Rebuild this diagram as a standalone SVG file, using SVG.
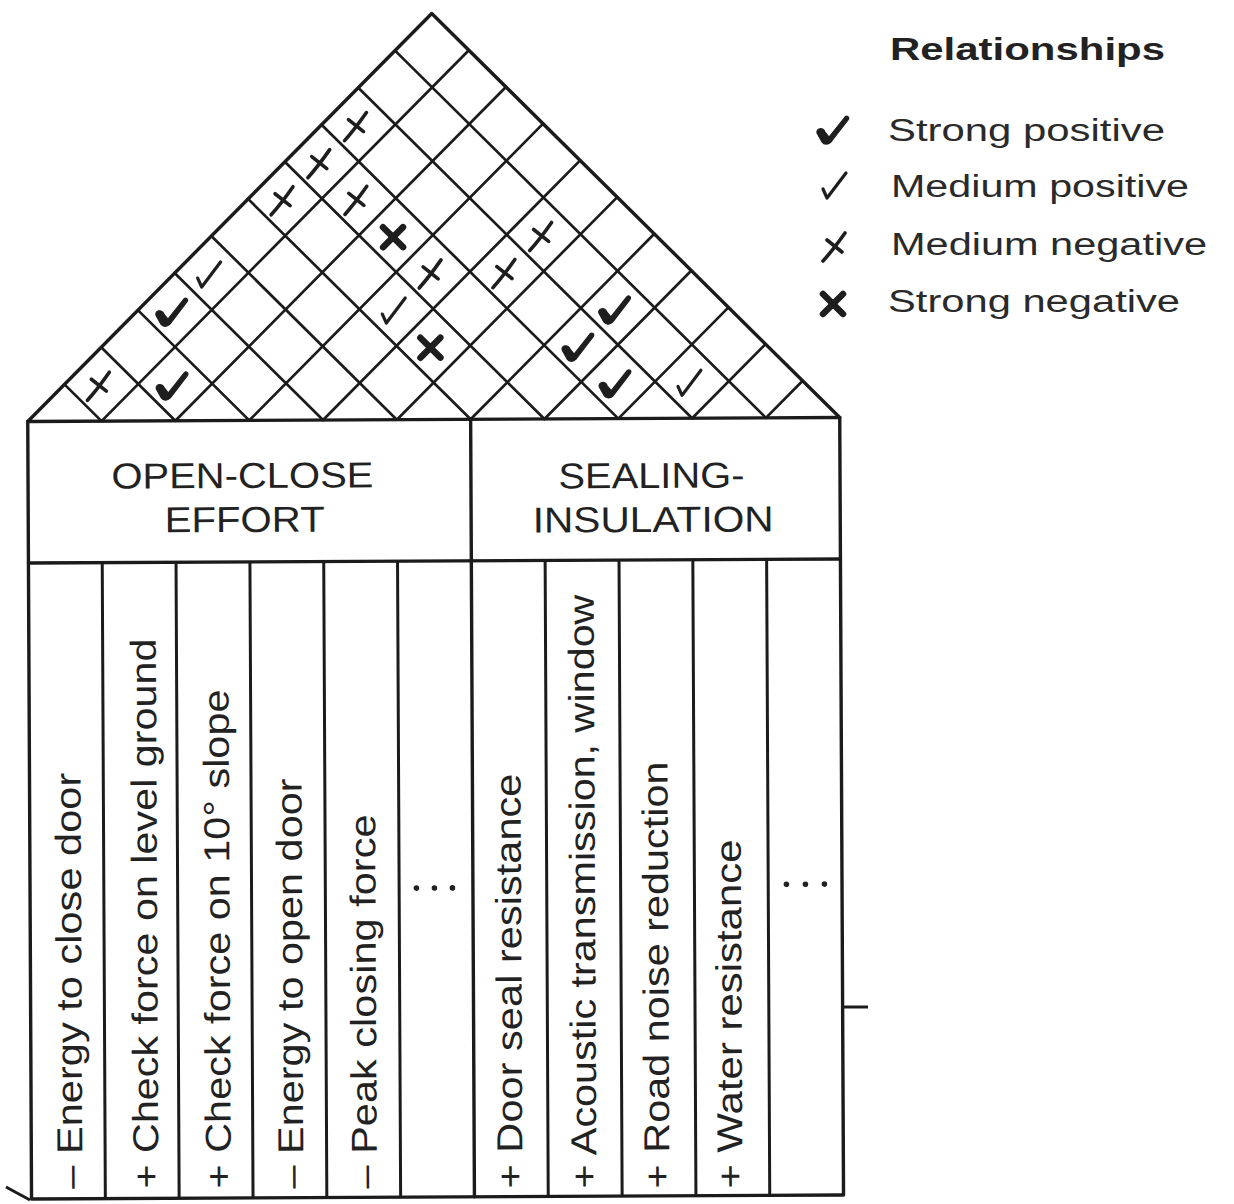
<svg xmlns="http://www.w3.org/2000/svg" xmlns:xlink="http://www.w3.org/1999/xlink" width="1234" height="1204" viewBox="0 0 1234 1204">
  <style>
    .edge { fill: none; stroke: #1b1b1b; stroke-width: 3.4; stroke-linejoin: round; stroke-linecap: round; }
    .grid { fill: none; stroke: #1b1b1b; stroke-width: 2.7; stroke-linecap: round; }
    .col { fill: none; stroke: #1b1b1b; stroke-width: 3; }
    .mark { fill: none; stroke: #1e1e1e; stroke-linecap: round; stroke-linejoin: round; }
    .solid { fill: #1e1e1e; stroke: #1e1e1e; stroke-width: 1.2; stroke-linejoin: round; }
    .lbl { font-family: "Liberation Sans", Arial, Helvetica, sans-serif; font-size: 36px; fill: #222; }
    .leg { font-family: "Liberation Sans", Arial, Helvetica, sans-serif; font-size: 31px; fill: #2a2a2a; }
    .legh { font-weight: bold; fill: #222; }
    .dot { fill: #222; }
  </style>
  <defs>
    <!-- relationship symbols, centred on 0,0 -->
    <g id="sp">
      <!-- heavy tick with a rounded left lobe -->
      <path class="solid" d="M-16,3 C-17,-2 -10,-3 -8,2 L-4,7 L12,-13 C14,-15 17,-13 15,-10 L-2,12 C-5,15 -9,15 -11,12 Z"/>
    </g>
    <g id="mp">
      <path class="mark" d="M-11,3 L-7,12 L12,-13" stroke-width="3.2"/>
    </g>
    <g id="mn">
      <path class="mark" d="M-11,14 Q-1,3 11,-14 M-7,-7 L8,5" stroke-width="3.6"/>
    </g>
    <g id="sn">
      <path class="mark" d="M-10,-10 L10,10 M-10,10 L10,-10" stroke-width="6.5"/>
      <circle cx="0" cy="0" r="4.5" fill="#1e1e1e"/>
    </g>
  </defs>

  <rect x="0" y="0" width="1234" height="1204" fill="#ffffff"/>

  <g id="house" transform="rotate(-0.28 435 800)">
    <!-- correlation roof -->
    <g id="roof">
      <path class="grid" d="M103.4,419.5 l369.1,-369.1 M177.2,419.5 l332.2,-332.2 M251.1,419.5 l295.3,-295.3 M324.9,419.5 l258.4,-258.4 M398.7,419.5 l221.5,-221.5 M472.5,419.5 l184.6,-184.6 M546.3,419.5 l147.7,-147.7 M620.2,419.5 l110.7,-110.7 M694.0,419.5 l73.8,-73.8 M767.8,419.5 l36.9,-36.9"/>
      <path class="grid" d="M103.4,419.5 l-36.9,-36.9 M177.2,419.5 l-73.8,-73.8 M251.1,419.5 l-110.8,-110.8 M324.9,419.5 l-147.7,-147.7 M398.7,419.5 l-184.6,-184.6 M472.5,419.5 l-221.5,-221.5 M546.3,419.5 l-258.4,-258.4 M620.2,419.5 l-295.3,-295.3 M694.0,419.5 l-332.2,-332.2 M767.8,419.5 l-369.1,-369.1"/>
      <path class="edge" d="M29.6,419.5 L435.6,13.5 L841.6,419.5"/>
    </g>

    <!-- relationship marks in the roof cells -->
    <g id="correlations">
      <use xlink:href="#mn" x="100.4" y="384.6"/>
      <use xlink:href="#sp" x="174.3" y="384.6"/>
      <use xlink:href="#sp" x="174.3" y="310.8"/>
      <use xlink:href="#mp" x="211.2" y="273.9"/>
      <use xlink:href="#mn" x="285" y="200"/>
      <use xlink:href="#mn" x="321.9" y="163.1"/>
      <use xlink:href="#mn" x="358.8" y="126.2"/>
      <use xlink:href="#mn" x="358.8" y="200"/>
      <use xlink:href="#sn" x="395.8" y="237"/>
      <use xlink:href="#mn" x="432.7" y="273.9"/>
      <use xlink:href="#mp" x="395.7" y="310.8"/>
      <use xlink:href="#sn" x="432.6" y="347.7"/>
      <use xlink:href="#mn" x="543.4" y="237"/>
      <use xlink:href="#mn" x="506.5" y="273.9"/>
      <use xlink:href="#sp" x="617.2" y="310.8"/>
      <use xlink:href="#sp" x="580.3" y="347.7"/>
      <use xlink:href="#sp" x="617.2" y="384.6"/>
      <use xlink:href="#mp" x="691" y="384.6"/>
    </g>

    <!-- body frame -->
    <g id="frame">
      <rect class="edge" x="29.6" y="419.5" width="812" height="777.5"/>
      <line class="edge" x1="29.6" y1="561" x2="841.6" y2="561"/>
      <line class="edge" x1="472.5" y1="419.5" x2="472.5" y2="1197"/>
      <path class="col" d="M103.4,561 V1197 M177.2,561 V1197 M251.1,561 V1197 M324.9,561 V1197 M398.7,561 V1197 M546.3,561 V1197 M620.2,561 V1197 M694.0,561 V1197 M767.8,561 V1197"/>
    </g>

    <g id="group-open-close">
      <text class="lbl" x="113" y="487" textLength="262" lengthAdjust="spacingAndGlyphs">OPEN-CLOSE</text>
      <text class="lbl" x="166" y="531" textLength="160" lengthAdjust="spacingAndGlyphs">EFFORT</text>
    </g>
    <g id="group-sealing">
      <text class="lbl" x="560" y="489" textLength="186" lengthAdjust="spacingAndGlyphs">SEALING-</text>
      <text class="lbl" x="534" y="533" textLength="241" lengthAdjust="spacingAndGlyphs">INSULATION</text>
    </g>

    <g id="col-energy-close">
      <text class="lbl" transform="translate(80.5,1187) rotate(-90)" textLength="416" lengthAdjust="spacingAndGlyphs">– Energy to close door</text>
    </g>
    <g id="col-check-level">
      <text class="lbl" transform="translate(156.5,1187.2) rotate(-90)" textLength="550" lengthAdjust="spacingAndGlyphs">+ Check force on level ground</text>
    </g>
    <g id="col-check-slope">
      <text class="lbl" transform="translate(229,1187.5) rotate(-90)" textLength="499" lengthAdjust="spacingAndGlyphs">+ Check force on 10° slope</text>
    </g>
    <g id="col-energy-open">
      <text class="lbl" transform="translate(301.5,1187.8) rotate(-90)" textLength="410" lengthAdjust="spacingAndGlyphs">– Energy to open door</text>
    </g>
    <g id="col-peak-closing">
      <text class="lbl" transform="translate(375,1188.2) rotate(-90)" textLength="374" lengthAdjust="spacingAndGlyphs">– Peak closing force</text>
    </g>
    <g id="col-more-1">
      <circle class="dot" cx="416" cy="888" r="2.8"/>
      <circle class="dot" cx="434" cy="888" r="2.8"/>
      <circle class="dot" cx="452" cy="888" r="2.8"/>
    </g>
    <g id="col-door-seal">
      <text class="lbl" transform="translate(520.5,1188.9) rotate(-90)" textLength="415" lengthAdjust="spacingAndGlyphs">+ Door seal resistance</text>
    </g>
    <g id="col-acoustic">
      <text class="lbl" transform="translate(594.5,1189.3) rotate(-90)" textLength="594" lengthAdjust="spacingAndGlyphs">+ Acoustic transmission, window</text>
    </g>
    <g id="col-road-noise">
      <text class="lbl" transform="translate(667.5,1189.6) rotate(-90)" textLength="427" lengthAdjust="spacingAndGlyphs">+ Road noise reduction</text>
    </g>
    <g id="col-water">
      <text class="lbl" transform="translate(740.5,1190) rotate(-90)" textLength="349" lengthAdjust="spacingAndGlyphs">+ Water resistance</text>
    </g>
    <g id="col-more-2">
      <circle class="dot" cx="786" cy="886" r="2.8"/>
      <circle class="dot" cx="805" cy="886" r="2.8"/>
      <circle class="dot" cx="824" cy="886" r="2.8"/>
    </g>
  </g>

  <!-- stray ticks at the frame -->
  <path class="col" d="M842,1007 H868" stroke-width="2.4"/>
  <path class="col" d="M6,1187 L30,1200" stroke-width="2.4"/>

  <g id="legend">
    <text class="leg legh" x="890" y="60" textLength="275" lengthAdjust="spacingAndGlyphs">Relationships</text>
    <use xlink:href="#sp" x="833" y="130"/>
    <text class="leg" x="888" y="141" textLength="277" lengthAdjust="spacingAndGlyphs">Strong positive</text>
    <use xlink:href="#mp" x="834" y="186"/>
    <text class="leg" x="891" y="197" textLength="298" lengthAdjust="spacingAndGlyphs">Medium positive</text>
    <use xlink:href="#mn" x="834" y="247"/>
    <text class="leg" x="891" y="255" textLength="316" lengthAdjust="spacingAndGlyphs">Medium negative</text>
    <use xlink:href="#sn" x="833" y="304"/>
    <text class="leg" x="888" y="312" textLength="292" lengthAdjust="spacingAndGlyphs">Strong negative</text>
  </g>
</svg>
